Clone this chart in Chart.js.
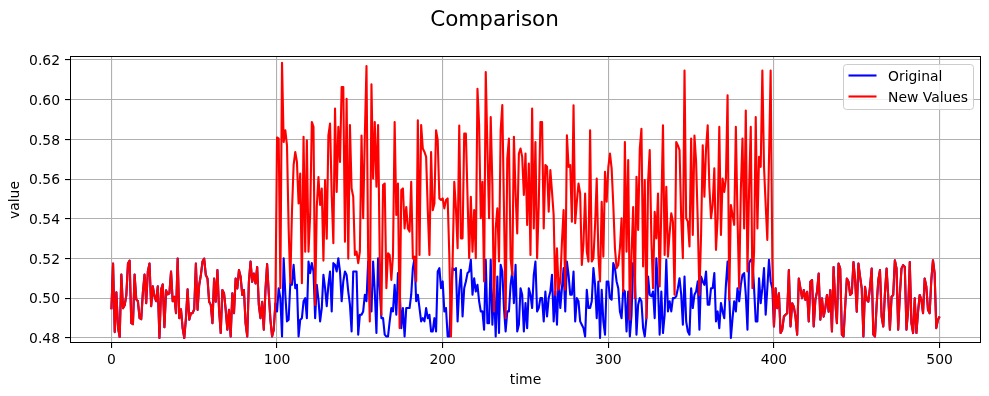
<!DOCTYPE html>
<html>
<head>
<meta charset="utf-8">
<script src="https://cdn.jsdelivr.net/npm/chart.js@4"></script>
<style>html,body{margin:0;padding:0;background:#fff;}canvas{display:block;}</style>
</head>
<body>
<canvas id="c" width="989" height="396"></canvas>
<script>
// ---- data ----
const original = [
.4945,.5175,.483,.503,.485,.4805,.512,.495,.4965,.5015,
.5175,.519,.4875,.487,.512,.4995,.4985,.490,.4895,.503,
.512,.4975,.5135,.5175,.496,.506,.501,.4985,.506,.480,
.5045,.507,.4855,.504,.502,.5025,.5135,.4985,.5008,.4925,
.520,.490,.4945,.485,.480,.490,.5045,.4892,.4925,.4925,
.4945,.5175,.4942,.5067,.5117,.5185,.520,.5117,.510,.4983,
.4967,.4875,.510,.4983,.5142,.4942,.4825,.5042,.5025,.4942,
.4842,.4942,.4808,.5025,.4925,.510,.505,.5142,.5108,.5017,
.5042,.4875,.4808,.5083,.5185,.5083,.5125,.5075,.5158,.4967,
.490,.4983,.4842,.5042,.5172,.5025,.4892,.4808,.4842,.4975,
.4934,.5051,.5001,.4808,.5202,.5018,.4884,.4892,.5076,.5068,
.5169,.5051,.5068,.4808,.4892,.49,.4985,.5001,.49,.5185,
.5127,.5177,.5135,.49,.5068,.4993,.4884,.4951,.5118,.5051,
.496,.5068,.5135,.4934,.5177,.5169,.5135,.5202,.5135,.4985,
.5085,.5135,.5118,.5034,.4968,.4833,.5135,.5135,.5135,.4817,
.4917,.4917,.4934,.5018,.4985,.5185,.5034,.4934,.5185,.5034,
.4825,.5202,.5051,.49,.49,.4817,.4808,.4808,.4884,.4951,
.4934,.5068,.4917,.5127,.5051,.485,.4951,.4808,.4951,.4951,
.4951,.5018,.5152,.5202,.4985,.5018,.4951,.4884,.49,.4884,
.4951,.49,.4917,.4833,.4833,.49,.4833,.5135,.5152,.5051,
.5085,.4934,.4951,.4808,.4808,.5018,.5152,.5143,.5152,.4884,
.5051,.5143,.4909,.5051,.5085,.5127,.5135,.5194,.5018,.5101,
.5034,.5068,.4985,.4934,.4934,.4842,.5194,.4875,.4875,.5194,
.4867,.5051,.4808,.511,.4825,.5169,.5135,.4951,.4833,.4934,
.4934,.5068,.5135,.4976,.5169,.4833,.4867,.5051,.5018,.4833,
.4976,.485,.5051,.5018,.4951,.5118,.5185,.4934,.4951,.5001,
.5001,.4884,.5034,.4909,.5001,.5034,.5118,.4884,.5034,.4867,
.5101,.4951,.5051,.5152,.4934,.5185,.5118,.5018,.5018,.5135,
.4884,.5001,.4985,.4884,.4867,.485,.4808,.5043,.4951,.4951,
.4985,.5152,.5068,.49,.5085,.48,.5043,.4884,.4817,.5085,
.5085,.5001,.4993,.5177,.5152,.5085,.5051,.4934,.49,.5043,
.5034,.4833,.5034,.4808,.4917,.5177,.5135,.4817,.4968,.5001,
.4985,.485,.4808,.49,.511,.5018,.501,.5034,.49,.5202,
.5051,.4817,.5034,.4825,.4917,.5194,.4934,.4985,.4934,.5001,
.5001,.501,.5051,.5101,.5018,.4867,.511,.4884,.4833,.4817,
.5051,.4951,.5018,.5034,.5085,.4842,.511,.5085,.5068,.5135,
.4968,.4968,.5051,.5051,.5127,.4884,.4934,.485,.4976,.4934,
.49,.5068,.5185,.5018,.48,.49,.4985,.4934,.5051,.4985,
.5068,.5118,.5127,.5018,.4842,.5177,.5194,.5194,.5051,.4884,
.4884,.5101,.4976,.5051,.5152,.4917,.5051,.5194,.5085,.5051,
.4858,.505,.495,.5025,.4825,.4842,.4908,.4917,.4925,.5142,
.4858,.4975,.4958,.4908,.4817,.51,.505,.5,.5042,.4992,
.5033,.4883,.5083,.5092,.4858,.4992,.5033,.5125,.4892,.5,
.4908,.495,.5017,.4933,.5042,.4833,.5158,.4983,.4875,.5175,
.515,.4817,.4808,.4958,.51,.5083,.5017,.5025,.5183,.5092,
.4933,.5175,.5108,.505,.4808,.5058,.4992,.4983,.5058,.515,
.4817,.4808,.4967,.5092,.5142,.4908,.4858,.5025,.515,.5008,
.4842,.5008,.5017,.5192,.515,.4842,.5017,.515,.5167,.5158,
.4842,.4942,.5183,.4875,.4825,.5,.4825,.4933,.5017,.4992,
.4925,.51,.5058,.4942,.4925,.5092,.5192,.5125,.485,.4892,
.4908
];

// replaced values for time 100 .. 399
const newStart = 100;
const newValues = [
.581,.5804,.5051,.6186,.5787,.5846,.577,.5352,.5076,.5436,
.567,.5737,.5687,.5478,.5628,.5076,.5813,.5235,.5796,.5235,
.542,.5888,.5863,.4967,.5462,.561,.547,.5553,.519,.5595,
.530,.582,.588,.552,.5277,.5955,.5536,.5863,.5687,.6064,
.6064,.5285,.6005,.520,.5872,.5553,.5511,.5218,.5235,.5177,
.5235,.582,.5403,.582,.617,.5218,.4883,.6078,.5603,.5888,
.5562,.5872,.520,.4917,.557,.5578,.5051,.5227,.5218,.5093,
.5218,.5888,.542,.5578,.485,.5545,.5553,.5352,.546,.5352,
.5336,.5587,.520,.521,.5085,.5896,.5218,.5872,.5754,.5737,
.5712,.5444,.5218,.5737,.5444,.5478,.5846,.5796,.5503,.5495,
.5503,.5453,.5495,.5503,.5218,.4808,.5185,.5587,.5453,.5252,
.587,.5302,.5302,.5829,.5829,.5511,.5202,.5511,.5235,.5444,
.5202,.6055,.5871,.5403,.5587,.5085,.6139,.5754,.5403,.5913,
.557,.4934,.5352,.5453,.5185,.5846,.5973,.5453,.49,.5704,
.5804,.5202,.5118,.5813,.5528,.5327,.5729,.5754,.5712,.552,
.5729,.5369,.5679,.5218,.5955,.5352,.5787,.5202,.547,.5888,
.5888,.5352,.5671,.5662,.5436,.5646,.5536,.542,.5018,.5252,
.5043,.5085,.5285,.5444,.5043,.5821,.5662,.5671,.5386,.5972,
.5378,.5486,.5578,.5528,.5168,.5277,.5528,.5235,.5185,.5846,
.5185,.5202,.5369,.5603,.5218,.5085,.5486,.521,.5637,.5486,
.566,.5729,.5654,.547,.5252,.5152,.5168,.5252,.5403,.5034,
.5787,.5235,.5696,.4892,.5218,.546,.5001,.5612,.5344,.5754,
.5854,.516,.5595,.49,.5587,.5746,.5294,.5051,.5436,.5302,
.5528,.506,.5453,.5871,.5218,.5562,.521,.5327,.5428,.5386,
.5018,.5787,.577,.5746,.5403,.5202,.6147,.5403,.5386,.5261,
.5804,.5319,.582,.5687,.5386,.5018,.5319,.5771,.5511,.5754,
.5871,.5562,.5403,.547,.5654,.5244,.5403,.5863,.5319,.5603,
.5536,.5603,.6022,.4993,.547,.542,.537,.5863,.5403,.5051,
.5545,.5804,.5352,.5946,.5135,.5553,.5863,.5051,.5235,.5913,
.5352,.5712,.5662,.6147,.5662,.547,.5294,.5696,.6147,.5202
];

const xTicks = [0, 100, 200, 300, 400, 500];
const yTicks = [0.48, 0.50, 0.52, 0.54, 0.56, 0.58, 0.60, 0.62];
const seriesNames = ['Original', 'New Values'];
const titleText = 'Comparison';
const xLabel = 'time';
const yLabel = 'value';

// ---- derived ----
const time = original.map((_, i) => i);
const newSeries = original.map((v, i) =>
  (i >= newStart && i < newStart + newValues.length) ? newValues[i - newStart] : v);

const FONT = "'DejaVu Sans', 'Liberation Sans', sans-serif";
const BLUE = '#0000ff', RED = '#ff0000';

const framePlugin = {
  id: 'frameLegend',
  afterDraw(chart) {
    const ctx = chart.ctx, a = chart.chartArea;
    ctx.save();
    // axes frame (all four spines)
    ctx.strokeStyle = '#000';
    ctx.lineWidth = 1;
    ctx.strokeRect(Math.round(a.left) + 0.5, Math.round(a.top) - 0.5,
                   Math.round(a.right) - Math.round(a.left) - 1, Math.round(a.bottom) - Math.round(a.top));
    // legend box
    const bw = 130, bh = 45;
    const bx = a.right - bw - 7.5, by = a.top + 7.5;
    ctx.beginPath();
    ctx.roundRect(bx, by, bw, bh, 3);
    ctx.fillStyle = 'rgba(255,255,255,0.8)';
    ctx.fill();
    ctx.strokeStyle = '#cccccc';
    ctx.lineWidth = 1;
    ctx.stroke();
    const items = [
      {label: seriesNames[0], color: BLUE},
      {label: seriesNames[1], color: RED}
    ];
    ctx.font = '13.9px ' + FONT;
    ctx.textBaseline = 'middle';
    ctx.textAlign = 'left';
    items.forEach((it, k) => {
      const y = by + 11 + k * 21;
      ctx.beginPath();
      ctx.moveTo(bx + 5, y);
      ctx.lineTo(bx + 33, y);
      ctx.strokeStyle = it.color;
      ctx.lineWidth = 2.1;
      ctx.stroke();
      ctx.fillStyle = '#000';
      ctx.fillText(it.label, bx + 44.5, y + 1.5);
    });
    ctx.restore();
  }
};

const tickFont = {family: FONT, size: 13.9};

new Chart(document.getElementById('c'), {
  type: 'line',
  data: {
    labels: time,
    datasets: [
      {label: seriesNames[1], data: newSeries, borderColor: RED, backgroundColor: RED,
       borderWidth: 2.1, pointRadius: 0, tension: 0, fill: false, borderJoinStyle: 'round'},
      {label: seriesNames[0], data: original, borderColor: BLUE, backgroundColor: BLUE,
       borderWidth: 2.1, pointRadius: 0, tension: 0, fill: false, borderJoinStyle: 'round'}
    ]
  },
  options: {
    responsive: false,
    animation: false,
    devicePixelRatio: 1,
    events: [],
    layout: {padding: 0},
    plugins: {
      legend: {display: false},
      tooltip: {enabled: false},
      title: {
        display: true, text: titleText, color: '#000',
        font: {family: FONT, size: 21.5, weight: 'normal', lineHeight: 1.2},
        padding: {top: 8, bottom: 23.2}
      }
    },
    scales: {
      x: {
        type: 'linear', min: -25, max: 525,
        afterBuildTicks: s => { s.ticks = xTicks.map(v => ({value: v})); },
        afterFit: s => { s.height = 53; },
        grid: {color: '#b0b0b0', lineWidth: 1.1, tickColor: '#000', tickLength: 5, tickWidth: 1.1},
        border: {display: false},
        ticks: {color: '#000', font: tickFont, padding: 4, maxRotation: 0, autoSkip: false,
                callback: v => String(v)},
        title: {display: true, text: xLabel, color: '#000', font: tickFont,
                padding: {top: 0, bottom: 7.5}}
      },
      y: {
        type: 'linear', position: 'left', min: 0.4775, max: 0.6215,
        afterBuildTicks: s => { s.ticks = yTicks.map(v => ({value: v})); },
        afterFit: s => { s.width = 70; },
        grid: {color: '#b0b0b0', lineWidth: 1.1, tickColor: '#000', tickLength: 5, tickWidth: 1.1},
        border: {display: false},
        ticks: {color: '#000', font: tickFont, padding: 5, autoSkip: false, labelOffset: 1.5,
                callback: v => Number(v).toFixed(2)},
        title: {display: true, text: yLabel, color: '#000', font: tickFont,
                padding: {top: 7.2, bottom: 0}}
      },
      yRight: {
        type: 'linear', position: 'right', display: true,
        afterFit: s => { s.width = 8; },
        grid: {display: false, drawTicks: false},
        border: {display: false},
        ticks: {display: false}
      }
    }
  },
  plugins: [framePlugin]
});
</script>
</body>
</html>
